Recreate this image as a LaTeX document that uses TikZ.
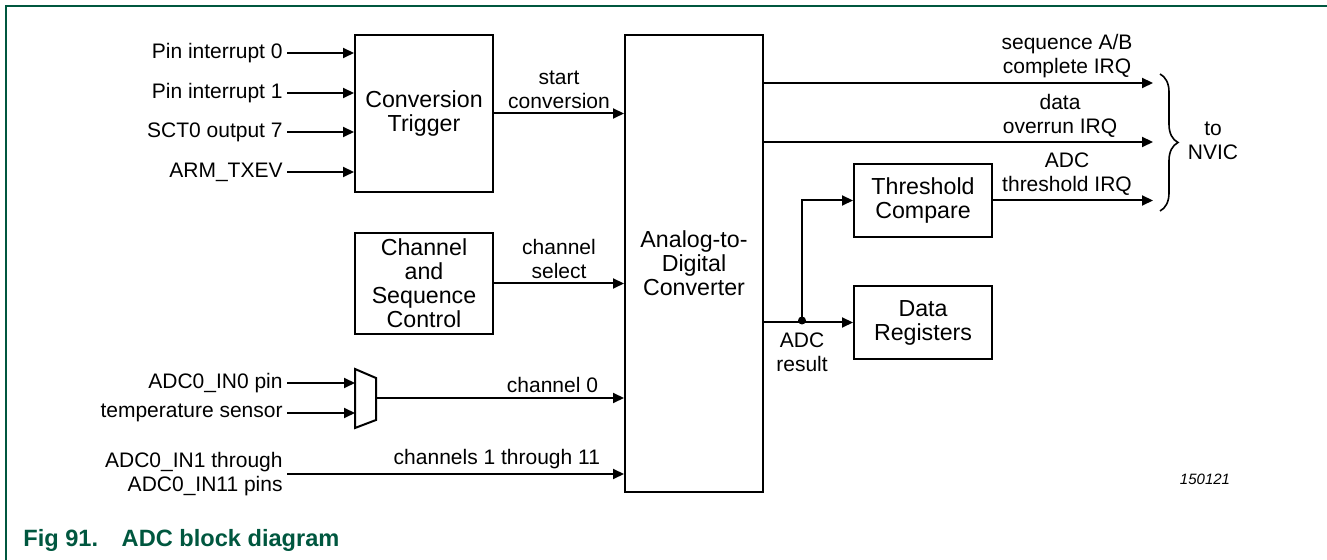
\documentclass[tikz,border=0pt]{standalone}
\usepackage{fontspec}
\setmainfont{Liberation Sans}
\usetikzlibrary{arrows.meta,positioning,decorations.pathreplacing}
\definecolor{nxpGreen}{HTML}{00573F}

\begin{document}
\begin{tikzpicture}[
    x=0.5pt, y=-0.5pt,
    box/.style={rectangle, draw, line width=1pt, minimum width=69pt, inner sep=0pt, align=center, font=\fontsize{11.6}{12}\selectfont},
    sig/.style={font=\fontsize{10.5}{12}\selectfont, align=center, inner sep=2pt},
    arrow/.style={-{Triangle[length=5.5pt,width=5pt]}, line width=1pt},
    wire/.style={line width=1pt}
]
    \useasboundingbox (0,0) rectangle (1327,560);
    \draw[nxpGreen, line width=1pt] (6,560) -- (6,6) -- (1327,6);

    % blocks
    \node[box, minimum height=78.5pt] (trig) at (424,113.5) {Conversion\\Trigger};
    \node[box, minimum height=50.5pt, below=19.5pt of trig] (chan) {Channel\\and\\Sequence\\Control};
    \node[box, minimum height=228.5pt] (adc) at (694,263.5) {Analog-to-\\Digital\\Converter};
    \node[box, minimum height=36.5pt] (thr) at (923,200.5) {Threshold\\Compare};
    \node[box, minimum height=36.5pt, below=23.5pt of thr] (data) {Data\\Registers};

    % trigger inputs
    \foreach \y/\name/\txt in {53/pin0/Pin interrupt 0, 93/pin1/Pin interrupt 1, 132/sct/SCT0 output 7, 172/txev/ARM\_TXEV} {
        \node[sig, anchor=east] (\name) at (287,\y) {\txt};
        \draw[arrow] (\name.east) -- (\name.east -| trig.west);
    }

    \draw[arrow] (trig.east) -- (trig.east -| adc.west) node[sig, midway, above] {start\\conversion};
    \draw[arrow] (chan.east) -- (chan.east -| adc.west) node[sig, midway, above] {channel\\select};

    % input mux
    \draw[wire] (355,369) -- (376,378) -- (376,420) -- (355,428) -- cycle;
    \coordinate (mux0) at (355,383);
    \coordinate (mux1) at (355,413);
    \coordinate (muxout) at (376,398);
    \node[sig, anchor=east] (in0) at (287,383) {ADC0\_IN0 pin};
    \node[sig, anchor=east] (temp) at (287,413) {temperature sensor};
    \draw[arrow] (in0.east) -- (mux0);
    \draw[arrow] (temp.east) -- (mux1);
    \draw[arrow] (muxout) -- (muxout -| adc.west) node[sig, pos=1, anchor=south east, xshift=-10.5pt] {channel 0};

    \node[sig, anchor=east, align=right] (rest) at (287,474) {ADC0\_IN1 through\\ADC0\_IN11 pins};
    \draw[arrow] (rest.east) -- (rest.east -| adc.west) node[sig, pos=1, anchor=south east, xshift=-9.5pt] {channels 1 through 11};

    % interrupts
    \coordinate (irqA) at (1153,83);
    \coordinate (irqB) at (1153,142);
    \draw[arrow] (irqA -| adc.east) -- (irqA) node[sig, pos=1, above, xshift=-43pt] {sequence A/B\\complete IRQ};
    \draw[arrow] (irqB -| adc.east) -- (irqB) node[sig, pos=1, above, xshift=-46.5pt] {data\\overrun IRQ};
    \draw[arrow] (thr.east) -- (thr.east -| irqA) node[sig, pos=1, above, xshift=-43pt] {ADC\\threshold IRQ};

    % result path
    \coordinate (split) at (802,320.5);
    \draw[arrow] (data.west -| adc.east) -- (data.west);
    \draw[arrow] (split) |- (thr.west);
    \fill (split) circle (2pt);
    \node[sig, below=4pt of split] (result) {ADC\\result};

    \coordinate (brTop) at (1160,74);
    \coordinate (brBot) at (1160,211);
    \draw[line width=0.8pt, decorate, decoration={brace, amplitude=9pt}] (brTop) -- (brBot);
    \node[sig] (nvic) at (1213,141) {to\\NVIC};

    \node[font=\fontsize{7.5}{9}\selectfont\itshape] (code) at (1205,479) {150121};
    \node[anchor=west, inner sep=0pt, text=nxpGreen, font=\fontsize{11.8}{14}\selectfont\bfseries] (title) at (23,540) {Fig 91.\hspace{1em}ADC block diagram};
\end{tikzpicture}
\end{document}
